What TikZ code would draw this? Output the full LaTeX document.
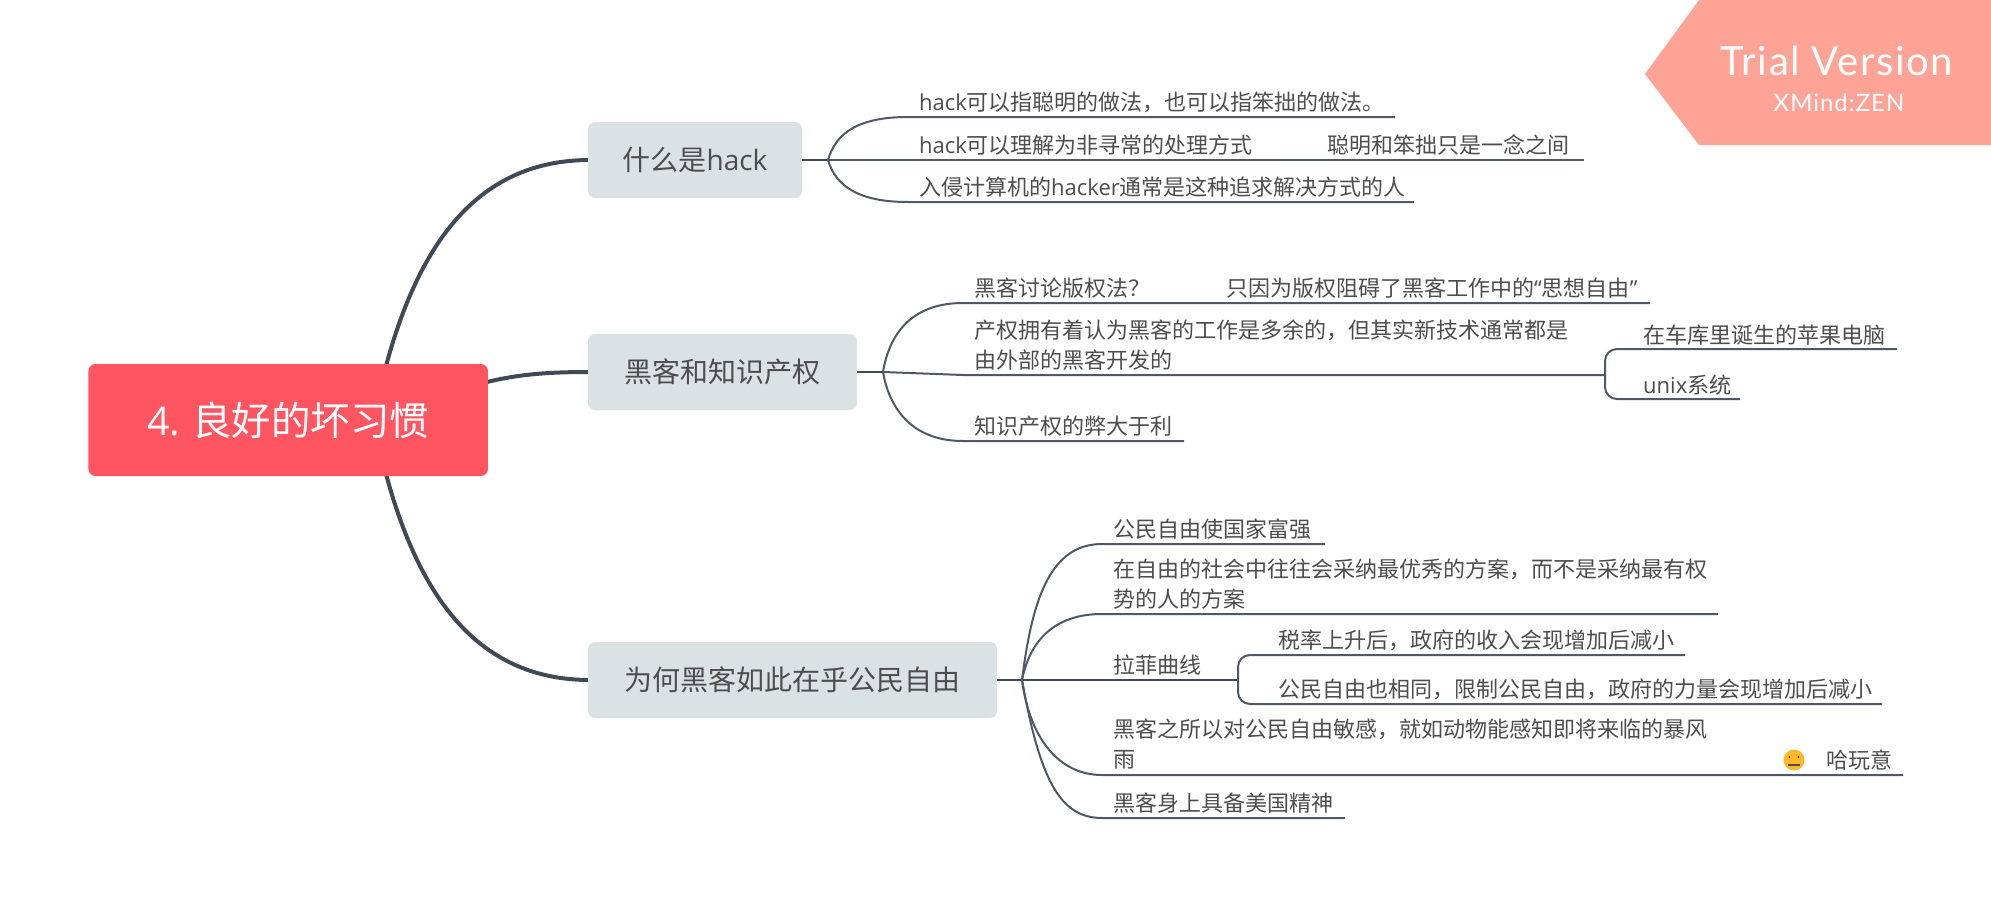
\documentclass[tikz,border=0pt]{standalone}
\usepackage{fontspec}
\setmainfont{Noto Sans CJK SC}
\newfontfamily\lat{Open Sans}
\newfontfamily\badgefont[LetterSpace=4]{Lato}
\definecolor{rootred}{HTML}{FF5561}
\definecolor{boxgrey}{HTML}{DAE2E3}
\definecolor{badge}{HTML}{FFA396}
\definecolor{txt}{HTML}{4D4D4D}
\definecolor{mainline}{HTML}{3F4A55}
\definecolor{leafline}{HTML}{4F5965}
\definecolor{smile}{HTML}{FFB927}
\newcommand{\hk}{{\lat hack}}
\tikzset{
  x=1pt,y=-1pt,
  rootbox/.style={fill=rootred,rounded corners=7pt,inner sep=0,text=white,font=\fontsize{39.5}{44}\selectfont},
  topicbox/.style={fill=boxgrey,rounded corners=7pt,inner sep=0,text=txt,font=\fontsize{28}{34}\selectfont},
  leaf/.style={anchor=base west,inner sep=0,text=txt,align=left,font=\fontsize{22}{30}\selectfont},
  mainlink/.style={draw=mainline,line width=4pt},
  stem/.style={draw=mainline,line width=2.5pt},
  leaflink/.style={draw=leafline,line width=2pt},
}
\begin{document}
\begin{tikzpicture}
\useasboundingbox (0,0) rectangle (1991,907);
% badge
\fill[badge] (1699,0) -- (1645,74) -- (1699,145) -- (1991,145) -- (1991,0) -- cycle;
\node[text=white,inner sep=0,font=\badgefont\fontsize{40}{44}\selectfont] (trial) at (1837,61) {Trial Version};
\node[text=white,inner sep=0,font=\badgefont\fontsize{24}{28}\selectfont] (zen) at (1839,103) {XMind:ZEN};
% coordinates
\coordinate (r1) at (386,366);
\coordinate (r2) at (487,382);
\coordinate (r3) at (386,474);
\coordinate (h1) at (828,160);
\coordinate (h2) at (883,372);
\coordinate (h3) at (1022,680);
% connectors main
\draw[mainlink] (r1) .. controls (420,240) and (480,160) .. (590,160);
\draw[mainlink] (r2) .. controls (520,374) and (550,372) .. (590,372);
\draw[mainlink] (r3) .. controls (420,600) and (480,680) .. (590,680);
% nodes
\node[rootbox,minimum width=399.5,minimum height=112] (root) at (288.2,420) {{\lat 4.} 良好的坏习惯};
\node[topicbox,minimum width=214,minimum height=76] (b1) at (695,160) {什么是{\lat hack}};
\node[topicbox,minimum width=269,minimum height=76] (b2) at (722.5,372) {黑客和知识产权};
\node[topicbox,minimum width=409,minimum height=76] (b3) at (792.5,680) {为何黑客如此在乎公民自由};
\draw[stem] (b1.east) -- (h1);
\draw[stem] (b2.east) -- (h2);
\draw[stem] (b3.east) -- (h3);
% branch 1
\coordinate (a1) at (908,117); \coordinate (a1e) at (1395,117);
\coordinate (a2) at (908,160); \coordinate (a2e) at (1584,160);
\coordinate (a3) at (908,202); \coordinate (a3e) at (1414,202);
\draw[leaflink] (h1) .. controls (836,132) and (860,117) .. (a1) -- (a1e);
\draw[leaflink] (h1) -- (a2) -- (a2e);
\draw[leaflink] (h1) .. controls (836,187) and (860,202) .. (a3) -- (a3e);
\node[leaf] (t11) at (919,110) {\hk 可以指聪明的做法，也可以指笨拙的做法。};
\node[leaf] (t12) at (919,153) {\hk 可以理解为非寻常的处理方式};
\node[leaf] (t121) at (1327,153) {聪明和笨拙只是一念之间};
\node[leaf] (t13) at (919,195) {入侵计算机的{\lat hacker}通常是这种追求解决方式的人};
% branch 2
\coordinate (c1) at (963,303); \coordinate (c1e) at (1650,303);
\coordinate (c2) at (963,375); \coordinate (c2e) at (1605,375);
\coordinate (c3) at (963,441); \coordinate (c3e) at (1184,441);
\coordinate (d1) at (1630,349); \coordinate (d1e) at (1897,349);
\coordinate (d2) at (1630,399); \coordinate (d2e) at (1740,399);
\draw[leaflink] (h2) .. controls (890,330) and (915,303) .. (c1) -- (c1e);
\draw[leaflink] (h2) -- (c2) -- (c2e);
\draw[leaflink] (h2) .. controls (890,412) and (915,441) .. (c3) -- (c3e);
\draw[leaflink,rounded corners=12pt] (d1e) -- (c2e |- d1) -- (c2e |- d2) -- (d2e);
\node[leaf] (t21) at (974,296) {黑客讨论版权法？};
\node[leaf] (t211) at (1226,296) {只因为版权阻碍了黑客工作中的{\lat “}思想自由{\lat ”}};
\node[leaf] (t22) at (974,368) {产权拥有着认为黑客的工作是多余的，但其实新技术通常都是\\由外部的黑客开发的};
\node[leaf] (t221) at (1643,343) {在车库里诞生的苹果电脑};
\node[leaf] (t222) at (1643,393) {{\lat unix}系统};
\node[leaf] (t23) at (974,434) {知识产权的弊大于利};
% branch 3
\coordinate (e1) at (1102,544); \coordinate (e1e) at (1325,544);
\coordinate (e2) at (1102,614); \coordinate (e2e) at (1718,614);
\coordinate (e3) at (1102,680); \coordinate (e3e) at (1238,680);
\coordinate (e4) at (1102,775); \coordinate (e4e) at (1903,775);
\coordinate (e5) at (1102,818); \coordinate (e5e) at (1345,818);
\coordinate (f1) at (1265,655); \coordinate (f1e) at (1685,655);
\coordinate (f2) at (1265,704); \coordinate (f2e) at (1882,704);
\draw[leaflink] (h3) .. controls (1032,600) and (1050,544) .. (e1) -- (e1e);
\draw[leaflink] (h3) .. controls (1030,640) and (1055,614) .. (e2) -- (e2e);
\draw[stem] (h3) -- (e3) -- (e3e);
\draw[leaflink] (h3) .. controls (1030,740) and (1060,775) .. (e4) -- (e4e);
\draw[leaflink] (h3) .. controls (1040,780) and (1060,818) .. (e5) -- (e5e);
\draw[leaflink,rounded corners=12pt] (f1e) -- (e3e |- f1) -- (e3e |- f2) -- (f2e);
\node[leaf] (t31) at (1113,537) {公民自由使国家富强};
\node[leaf] (t32) at (1113,607) {在自由的社会中往往会采纳最优秀的方案，而不是采纳最有权\\势的人的方案};
\node[leaf] (t33) at (1113,673) {拉菲曲线};
\node[leaf] (t331) at (1278,648) {税率上升后，政府的收入会现增加后减小};
\node[leaf] (t332) at (1278,697) {公民自由也相同，限制公民自由，政府的力量会现增加后减小};
\node[leaf] (t34) at (1113,767) {黑客之所以对公民自由敏感，就如动物能感知即将来临的暴风\\雨};
\node[leaf] (t341) at (1826,768) {哈玩意};
\node[leaf] (t35) at (1113,811) {黑客身上具备美国精神};
% neutral face marker
\fill[smile] (1794,760) circle (10.5);
\fill[txt] (1789.5,757) circle (1.2) (1798.5,757) circle (1.2);
\draw[txt,line width=1.2pt] (1788,765) -- (1800,765);
\end{tikzpicture}
\end{document}
